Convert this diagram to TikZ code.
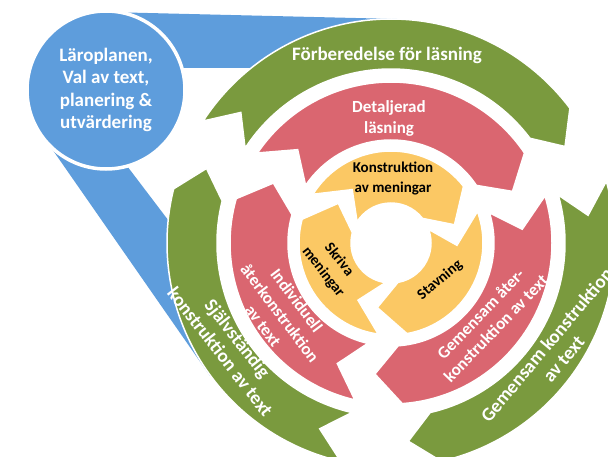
\documentclass[tikz,border=0pt]{standalone}
\usepackage{fontspec}
\setmainfont{Carlito}
\definecolor{cgreen}{HTML}{7A9A3E}
\definecolor{cred}{HTML}{DA6670}
\definecolor{cyellow}{HTML}{FBC864}
\definecolor{cblue}{HTML}{5E9DDC}
\newcommand\chevseg[6]{% style, r in, r out, tail angle, head angle, chevron depth
  \path[#1] (#4:#3) arc[start angle=#4, end angle=#5, radius=#3]
    -- ({#5-#6}:{(#2+#3)/2}) -- (#5:#2)
    arc[start angle=#5, end angle=#4, radius=#2]
    -- ({#4-#6}:{(#2+#3)/2}) -- cycle;}
\begin{document}
\begin{tikzpicture}[x=1pt,y=1pt,
  seg/.style={fill=#1, draw=white, line width=1.5pt, line join=miter},
  lbl/.style={text=white, align=center, font=\bfseries\fontsize{19}{22}\selectfont, inner sep=0pt},
  gtext/.style={lbl},
  rtext/.style={lbl, font=\bfseries\fontsize{17}{21}\selectfont},
  ytext/.style={lbl, text=black, font=\bfseries\fontsize{15}{20}\selectfont}]
\useasboundingbox (0,0) rectangle (608,456);
\clip (0,0) rectangle (608,456);
% blue funnel bands
\fill[cblue] (106,366) -- (106,444) -- (397,437) -- (330,396) -- (262,388) -- (178,388) -- cycle;
\fill[cblue] (106,366) -- (43,320) -- (210,80) -- (215,126) -- (181,219) -- (121,298) -- cycle;
\node[circle, fill=cblue, draw=white, line width=3.5pt, minimum size=158pt, inner sep=0pt,
  text=white, align=center, font=\bfseries\fontsize{19}{22.5}\selectfont] (plan) at (106,366)
  {Läroplanen,\\Val av text,\\planering \&\\utvärdering};
\begin{scope}[shift={(391,213)}]
  % green ring
  \chevseg{seg=cgreen}{174}{224}{147}{37}{8}
  \chevseg{seg=cgreen}{174}{224}{16}{-77}{8}
  \chevseg{seg=cgreen}{174}{224}{257}{166}{8}
  % red ring
  \chevseg{seg=cred}{103}{161}{146}{34}{11}
  \chevseg{seg=cred}{103}{161}{17}{-86}{11}
  \chevseg{seg=cred}{103}{161}{257}{164}{11}
  % yellow ring
  \chevseg{seg=cyellow}{40}{92}{148}{38}{22}
  \chevseg{seg=cyellow}{40}{92}{20}{-80}{22}
  \chevseg{seg=cyellow}{40}{92}{262}{165}{22}
\end{scope}
\node[gtext] (t1) at (387,401) {Förberedelse för läsning};
\node[rtext] (t2) at (389,338) {Detaljerad\\läsning};
\node[ytext] (t3) at (393,278) {Konstruktion\\av meningar};
\node[ytext, rotate=-52] (t4) at (331,190) {Skriva\\meningar};
\node[ytext, rotate=40] (t5) at (440,176) {Stavning};
\node[rtext, rotate=-53] (t6) at (280,143) {Individuell\\återkonstruktion\\av text};
\node[gtext, rotate=-52] (t7) at (229,111) {Självständig\\konstruktion av text};
\node[rtext, rotate=46] (t8) at (488,135) {Gemensam åter-\\konstruktion av text};
\node[gtext, rotate=50] (t9) at (555,104) {Gemensam konstruktion\\av text};
\end{tikzpicture}
\end{document}
